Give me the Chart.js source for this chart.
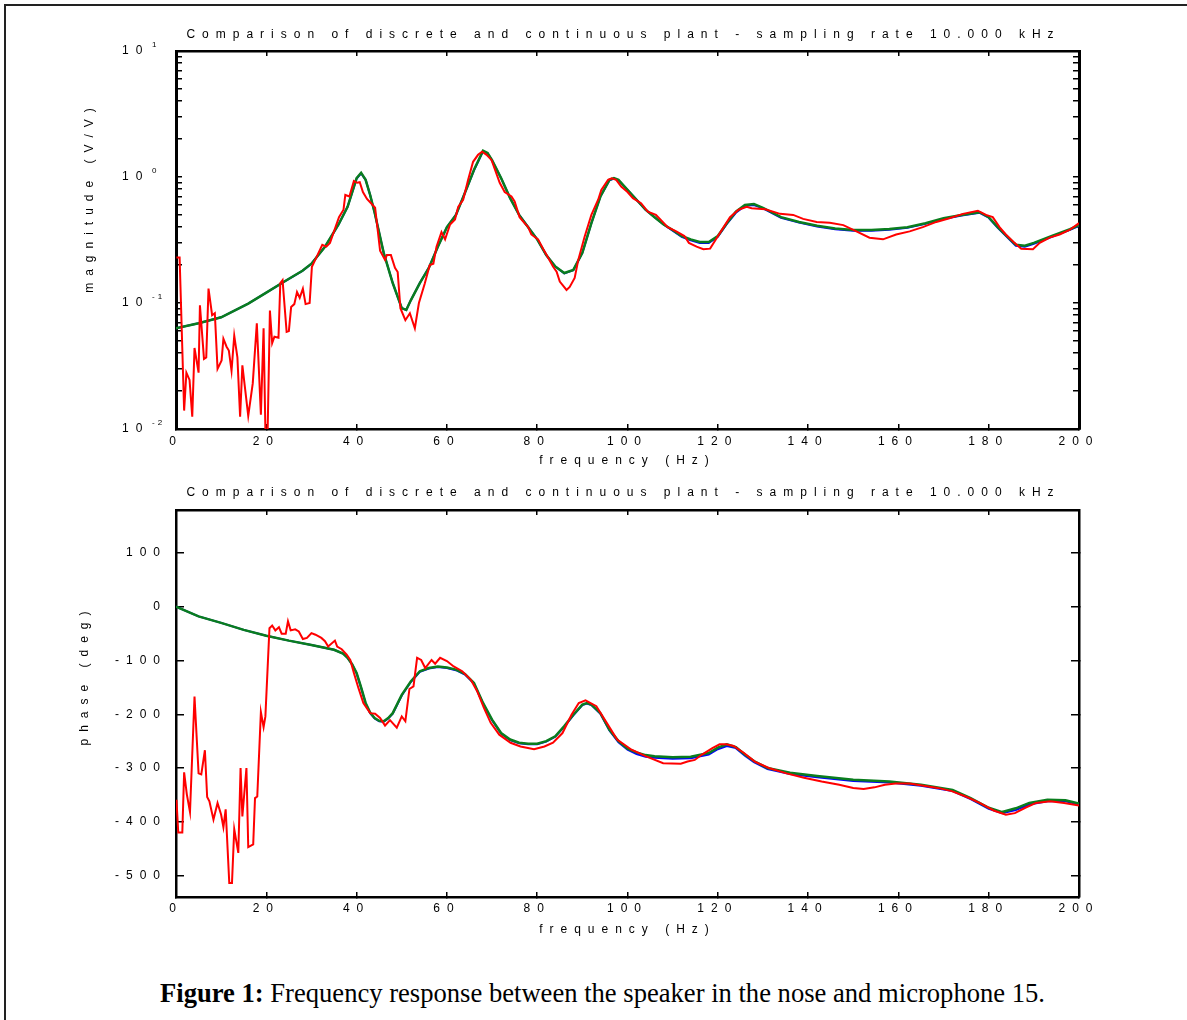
<!DOCTYPE html>
<html>
<head>
<meta charset="utf-8">
<script src="https://cdn.jsdelivr.net/npm/chart.js@4.4.0/dist/chart.umd.min.js"></script>
<style>
  body { margin: 0; background: #fff; width: 1187px; height: 1020px; overflow: hidden; position: relative; }
  #frame { position: absolute; left: 4px; top: 4px; width: 1250px; height: 1100px; border: 2px solid #222; }
  #magCanvas { position: absolute; left: 60px; top: 0px; }
  #phaseCanvas { position: absolute; left: 60px; top: 470px; }
  #caption { position: absolute; left: 160px; top: 978px; font-family: "Liberation Serif", "Times New Roman", serif; font-size: 26.6px; color: #000; white-space: nowrap; }
</style>
</head>
<body>
<div id="frame"></div>
<canvas id="magCanvas" width="1127" height="475"></canvas>
<canvas id="phaseCanvas" width="1127" height="480"></canvas>
<div id="caption"><b>Figure 1:</b> Frequency response between the speaker in the nose and microphone 15.</div>
<script>
// titles / labels
var plotTitle = "Comparison of discrete and continuous plant - sampling rate 10.000 kHz";
var xLabel = "frequency (Hz)";
var magLabel = "magnitude (V/V)";
var phaseLabel = "phase (deg)";
var magDecades = [-2, -1, 0, 1];

// continuous plant (green) and discrete plant (blue), magnitude
var freqMagC = [0,5,10,16,20,24,28,30,33,36,38,39,40,41,42,43,44,46,48,50,51,52,54,56,58,60,62,64,66,68,69,70,72,74,76,78,80,82,84,86,88,90,92,94,96,97,98,100,102,104,106,108,110,112,114,116,118,120,122,124,126,128,130,134,138,142,146,150,154,158,162,166,170,174,178,180,182,184,186,188,190,194,198,200];
var magCont = [0.063,0.069,0.077,0.099,0.121,0.148,0.18,0.205,0.28,0.42,0.58,0.75,0.98,1.08,0.95,0.72,0.52,0.25,0.144,0.091,0.088,0.105,0.144,0.19,0.28,0.40,0.50,0.75,1.14,1.62,1.55,1.36,0.98,0.68,0.50,0.40,0.32,0.24,0.195,0.173,0.183,0.25,0.43,0.70,0.95,0.98,0.95,0.79,0.66,0.55,0.48,0.42,0.38,0.34,0.32,0.305,0.305,0.34,0.43,0.53,0.60,0.61,0.57,0.48,0.44,0.41,0.39,0.38,0.38,0.386,0.40,0.43,0.47,0.50,0.525,0.48,0.40,0.34,0.29,0.285,0.30,0.34,0.385,0.415];
var magDisc = [0.063,0.069,0.077,0.099,0.121,0.148,0.18,0.205,0.28,0.42,0.58,0.75,0.97,1.07,0.95,0.72,0.52,0.25,0.144,0.091,0.088,0.105,0.144,0.19,0.28,0.40,0.50,0.75,1.13,1.60,1.54,1.35,0.98,0.68,0.50,0.40,0.32,0.24,0.195,0.172,0.182,0.25,0.43,0.70,0.94,0.97,0.94,0.79,0.66,0.55,0.48,0.42,0.375,0.335,0.315,0.30,0.30,0.335,0.425,0.52,0.59,0.60,0.565,0.475,0.435,0.405,0.385,0.375,0.375,0.382,0.395,0.425,0.465,0.495,0.52,0.475,0.395,0.335,0.285,0.28,0.295,0.335,0.38,0.41];

// measured response (red), magnitude
var freqMagM = [0.1,0.8,1.8,2.3,3.0,3.6,4.1,5.0,5.3,6.2,6.7,7.2,8.0,8.6,9.2,10.1,10.5,11.2,11.7,12.3,12.9,13.6,14.2,14.7,16.0,17.0,17.9,18.8,19.4,19.8,20.3,20.8,21.3,21.8,22.7,23.1,23.6,24.5,25.0,25.5,26.2,26.8,27.4,28.1,28.7,29.6,30.1,31.1,32.4,33.3,34.1,36.1,37.1,37.5,38.4,39.4,40.1,40.7,41.4,42.3,43.0,44.1,45.2,46.3,46.7,47.6,48.5,49.1,49.7,50.8,51.8,52.9,53.8,55.1,56.2,57.0,57.7,58.8,59.6,60.7,61.8,62.5,63.6,64.7,65.8,66.9,67.8,68.8,69.9,71.7,72.8,74.3,75.0,76.1,77.2,78.0,78.7,80.2,81.3,82.4,83.5,84.3,85.0,86.5,87.2,88.3,89.1,90.5,92.0,93.5,94.2,95.7,96.5,97.5,98.6,100.0,101.2,103.0,104.5,106.3,107.8,108.9,110.8,112.6,113.6,115.3,116.8,118.3,119.8,121.3,122.7,124.6,126.4,127.5,130.5,133.8,136.7,138.9,141.9,144.8,147.8,150.7,153.6,156.6,159.5,162.5,165.4,168.4,171.3,174.3,177.6,179.4,180.9,182.4,183.8,185.7,187.2,189.8,191.3,193.5,195.7,197.9,200];
var magMeas = [0.23,0.23,0.014,0.028,0.0245,0.0125,0.044,0.028,0.096,0.036,0.037,0.13,0.080,0.083,0.030,0.035,0.052,0.045,0.042,0.029,0.055,0.037,0.0125,0.032,0.0127,0.023,0.069,0.013,0.063,0.0097,0.0097,0.087,0.048,0.054,0.053,0.144,0.152,0.059,0.060,0.093,0.098,0.122,0.110,0.130,0.098,0.100,0.194,0.23,0.29,0.28,0.30,0.48,0.55,0.72,0.70,0.93,0.90,0.91,0.76,0.67,0.63,0.57,0.26,0.22,0.24,0.24,0.19,0.176,0.091,0.073,0.083,0.063,0.10,0.143,0.20,0.205,0.28,0.366,0.32,0.42,0.46,0.58,0.66,0.95,1.32,1.50,1.59,1.50,1.36,0.90,0.76,0.70,0.64,0.48,0.43,0.40,0.35,0.32,0.27,0.23,0.195,0.177,0.148,0.127,0.134,0.158,0.22,0.336,0.50,0.66,0.79,0.95,0.975,0.95,0.84,0.76,0.68,0.62,0.53,0.50,0.44,0.40,0.37,0.34,0.30,0.28,0.267,0.27,0.33,0.40,0.48,0.55,0.58,0.565,0.555,0.51,0.50,0.465,0.44,0.434,0.415,0.37,0.33,0.32,0.35,0.37,0.40,0.44,0.47,0.51,0.54,0.50,0.48,0.40,0.35,0.30,0.27,0.267,0.30,0.33,0.35,0.38,0.43];

// continuous / discrete phase
var freqPhC = [0,5,10,15,20,25,30,35,37,38,39,40,41,42,43,44,45,46,47,48,50,52,54,56,58,60,62,64,66,68,70,72,74,76,78,80,82,84,86,88,90,91,92,94,96,98,100,102,104,106,110,114,118,120,122,124,126,128,131,136,142,150,158,165,172,176,180,183,186,189,193,197,200];
var phCont = [0,-18,-30,-43,-54,-63,-71,-80,-87,-95,-107,-123,-150,-179,-197,-207,-212,-213,-207,-198,-164,-139,-120,-114,-111,-113,-117,-125,-142,-179,-210,-235,-247,-253,-255,-255,-250,-241,-222,-201,-182,-179,-182,-198,-229,-250,-264,-271,-276,-278,-280,-279,-272,-262,-256,-261,-275,-287,-300,-309,-315,-322,-325,-331,-341,-356,-374,-382,-375,-365,-359,-360,-366];
var phDisc = [0,-18,-30,-43,-54,-63,-71,-80,-87,-95,-107,-124,-151,-180,-198,-208,-213,-214,-208,-199,-165,-140,-121,-115,-112,-114,-118,-126,-143,-180,-211,-236,-248,-254,-256,-256,-251,-242,-223,-202,-183,-180,-183,-199,-230,-252,-266,-274,-279,-281,-283,-282,-275,-265,-259,-263,-277,-289,-302,-311,-317,-324,-327,-333,-343,-358,-376,-384,-378,-368,-362,-362,-368];

// measured phase (red)
var freqPhM = [0.1,0.5,1.4,1.8,2.4,3.1,4.1,5.0,5.6,6.4,6.9,7.4,8.3,9.2,10.0,10.5,11.0,11.8,12.4,12.9,13.8,14.3,14.7,15.6,16.0,17.1,17.5,18.0,18.8,19.4,19.8,20.7,21.3,22.0,22.8,23.4,24.3,24.8,25.4,26.4,27.2,28.1,29.0,30.0,30.9,32.2,33.0,33.7,35.2,35.7,36.7,37.8,38.6,39.4,40.4,41.5,43.0,44.1,45.2,46.3,47.4,48.9,50.0,50.8,51.7,52.6,53.4,54.3,55.2,56.6,57.4,58.5,60.0,61.5,63.4,65.3,66.7,68.2,69.7,71.6,74.1,76.3,79.3,81.6,83.5,85.6,87.6,89.2,90.7,93.1,95.4,97.7,100.9,104.0,107.9,111.8,113.3,114.9,116.5,118.8,120.4,121.9,123.5,125.8,128.2,131.3,135.2,139.1,143.0,146.9,150.0,152.3,154.7,157.0,159.4,162.5,165.6,168.7,171.8,174.9,178.0,181.1,183.8,185.8,188.1,190.5,193.6,196.7,200];
var phMeas = [-359,-420,-420,-308,-349,-382,-167,-310,-312,-267,-354,-362,-396,-365,-387,-410,-377,-514,-514,-414,-458,-300,-390,-300,-447,-442,-356,-353,-196,-224,-204,-40,-35,-44,-38,-50,-50,-27,-44,-42,-46,-60,-58,-49,-52,-58,-64,-74,-63,-74,-79,-89,-99,-123,-151,-179,-198,-199,-207,-221,-211,-225,-204,-213,-153,-148,-95,-99,-114,-99,-106,-95,-101,-111,-120,-136,-157,-188,-216,-238,-253,-260,-265,-260,-253,-235,-201,-179,-174,-185,-216,-247,-266,-278,-291,-292,-288,-285,-275,-263,-256,-256,-259,-272,-288,-300,-310,-318,-325,-331,-337,-339,-336,-331,-329,-329,-333,-337,-343,-353,-365,-379,-387,-384,-374,-365,-362,-365,-370];

var FONT = '"Liberation Sans", Arial, sans-serif';
var SPACING = '7px';

function pts(xs, ys) {
	var out = [];
	for (var i = 0; i < xs.length; i++) out.push({x: xs[i], y: ys[i]});
	return out;
}

// every text in the original is spread out letter by letter
var spacingPlugin = {
	id: 'spacing',
	beforeUpdate: function(c) { c.ctx.letterSpacing = SPACING; },
	beforeDraw: function(c) { c.ctx.letterSpacing = SPACING; }
};

function lineSet(label, data, color, width, order) {
	return { label: label, data: data, borderColor: color, borderWidth: width, pointRadius: 0, tension: 0, fill: false, order: order };
}

function xAxes(tickPad, titlePad, height) {
	var grid = { drawOnChartArea: false, tickLength: -5, color: '#000', lineWidth: 1.5 };
	return {
		x: { type: 'linear', position: 'bottom', min: 0, max: 200,
			ticks: { stepSize: 20, autoSkip: false, maxRotation: 0, padding: tickPad, color: '#000', font: { family: FONT, size: 12 } },
			grid: grid, border: { color: '#000', width: 2.5 },
			title: { display: true, text: xLabel, color: '#000', font: { family: FONT, size: 12 }, padding: { top: 0, bottom: titlePad } },
			afterFit: function(s) { s.height = height; } },
		x2: { type: 'linear', position: 'top', min: 0, max: 200,
			ticks: { stepSize: 20, display: false },
			grid: grid, border: { color: '#000', width: 2.5 },
			afterFit: function(s) { s.height = 0; } }
	};
}

// magnitude chart
var magScales = xAxes(10.3, 6.8, 46);
var logGrid = { drawOnChartArea: false, tickLength: -6, color: '#000', lineWidth: 1.5 };
function keepWhole(s) {
	s.ticks = s.ticks.filter(function(t) {
		var m = t.value / Math.pow(10, Math.floor(Math.log10(t.value) + 1e-9));
		return Math.abs(m - Math.round(m)) < 1e-6;
	});
}
magScales.y = { type: 'logarithmic', position: 'left', min: 0.01, max: 10, ticks: { display: false },
	grid: logGrid, border: { color: '#000', width: 3 }, afterBuildTicks: keepWhole,
	afterFit: function(s) { s.width = 116; } };
magScales.y2 = { type: 'logarithmic', position: 'right', min: 0.01, max: 10, ticks: { display: false },
	grid: logGrid, border: { color: '#000', width: 3 }, afterBuildTicks: keepWhole,
	afterFit: function(s) { s.width = 108; } };

var magLabels = {
	id: 'magLabels',
	afterDraw: function(c) {
		var ctx = c.ctx, sc = c.scales.y;
		ctx.save();
		ctx.fillStyle = '#000';
		ctx.textBaseline = 'middle';
		ctx.textAlign = 'left';
		for (var i = 0; i < magDecades.length; i++) {
			var y = sc.getPixelForValue(Math.pow(10, magDecades[i]));
			ctx.font = '12px ' + FONT;
			ctx.letterSpacing = SPACING;
			ctx.fillText('10', 62, y);
			ctx.font = '8px ' + FONT;
			ctx.letterSpacing = '3px';
			ctx.fillText(String(magDecades[i]), 92, y - 6);
		}
		ctx.font = '12px ' + FONT;
		ctx.letterSpacing = SPACING;
		ctx.translate(30, 197);
		ctx.rotate(-Math.PI / 2);
		ctx.textAlign = 'center';
		ctx.fillText(magLabel, 0, 0);
		ctx.restore();
	}
};

new Chart(document.getElementById('magCanvas'), {
	type: 'line',
	data: { datasets: [
		lineSet('measured', pts(freqMagM, magMeas), '#ff0000', 2, 0),
		lineSet('continuous', pts(freqMagC, magCont), '#0a7d1e', 2.5, 1),
		lineSet('discrete', pts(freqMagC, magDisc), '#0000ff', 2, 2)
	] },
	options: {
		responsive: false, animation: false, devicePixelRatio: 1,
		layout: { padding: 0 },
		scales: magScales,
		plugins: {
			legend: { display: false }, tooltip: { enabled: false },
			title: { display: true, text: plotTitle, color: '#000', font: { family: FONT, size: 12, weight: 'normal' }, padding: { top: 27, bottom: 9.6 } }
		}
	},
	plugins: [spacingPlugin, magLabels]
});

// phase chart
var phScales = xAxes(9.8, 12.8, 53);
var phGrid = { drawOnChartArea: false, tickLength: -8, color: '#000', lineWidth: 1.5 };
phScales.y = { type: 'linear', position: 'left', min: -540, max: 180,
	ticks: { stepSize: 100, includeBounds: false, padding: 17, color: '#000', font: { family: FONT, size: 12 } },
	grid: phGrid, border: { color: '#000', width: 2.5 },
	afterFit: function(s) { s.width = 116; } };
phScales.y2 = { type: 'linear', position: 'right', min: -540, max: 180,
	ticks: { stepSize: 100, includeBounds: false, display: false },
	grid: phGrid, border: { color: '#000', width: 2.5 },
	afterFit: function(s) { s.width = 108; } };

var phLabels = {
	id: 'phLabels',
	afterDraw: function(c) {
		var ctx = c.ctx;
		ctx.save();
		ctx.fillStyle = '#000';
		ctx.letterSpacing = SPACING;
		ctx.font = '12px ' + FONT;
		ctx.translate(25, 205);
		ctx.rotate(-Math.PI / 2);
		ctx.textAlign = 'center';
		ctx.textBaseline = 'middle';
		ctx.fillText(phaseLabel, 0, 0);
		ctx.restore();
	}
};

new Chart(document.getElementById('phaseCanvas'), {
	type: 'line',
	data: { datasets: [
		lineSet('measured', pts(freqPhM, phMeas), '#ff0000', 2, 0),
		lineSet('continuous', pts(freqPhC, phCont), '#0a7d1e', 2.5, 1),
		lineSet('discrete', pts(freqPhC, phDisc), '#0000ff', 2, 2)
	] },
	options: {
		responsive: false, animation: false, devicePixelRatio: 1,
		layout: { padding: 0 },
		scales: phScales,
		plugins: {
			legend: { display: false }, tooltip: { enabled: false },
			title: { display: true, text: plotTitle, color: '#000', font: { family: FONT, size: 12, weight: 'normal' }, padding: { top: 15.5, bottom: 10.1 } }
		}
	},
	plugins: [spacingPlugin, phLabels]
});
</script>
</body>
</html>
